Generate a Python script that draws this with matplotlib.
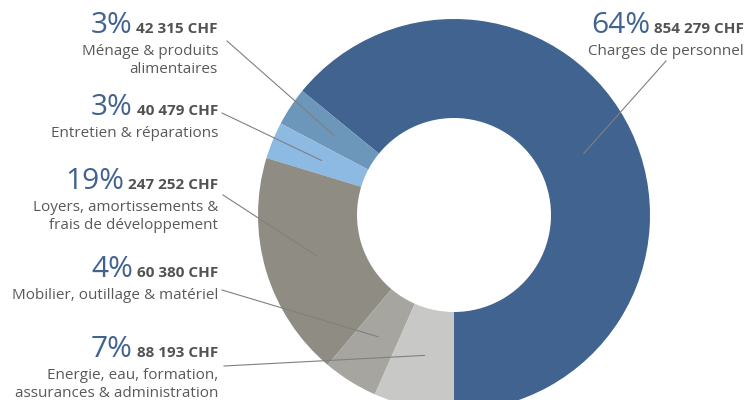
import matplotlib
matplotlib.use('Agg')
import matplotlib.pyplot as plt
import numpy as np

plt.rcParams['font.family'] = ['Open Sans', 'DejaVu Sans']

# data, in drawing order (starting at 6 o'clock, going right)
labels = ["Charges de personnel",
          "Ménage & produits\nalimentaires",
          "Entretien & réparations",
          "Loyers, amortissements &\nfrais de développement",
          "Mobilier, outillage & matériel",
          "Energie, eau, formation,\nassurances & administration"]
values = [854279, 42315, 40479, 247252, 60380, 88193]
pct_labels = ["64%", "3%", "3%", "19%", "4%", "7%"]
colors = ['#41638f', '#6c96ba', '#8dbae2', '#8f8c84', '#a6a59f', '#c8c8c6']

# label anchors (right edge x, baseline of the big percent), in pixels
anchors = [(744, 33), (218, 33), (218, 115), (218, 189), (218, 277), (218, 357)]
# leader line start, next to the text
line_starts = [(666, 61), (227, 41), (222, 113), (223, 195), (222, 290), (224, 366)]

W, H = 749, 400
fig = plt.figure(figsize=(W / 100, H / 100), dpi=100)
ax = fig.add_axes([0, 0, 1, 1])

cx, cy, r_out, r_in = 454, 215, 196, 97
wedges, _ = ax.pie(values, colors=colors, startangle=90, counterclock=False,
                   center=(cx, cy), radius=r_out, frame=True,
                   wedgeprops=dict(width=r_out - r_in, linewidth=0))
ax.set_xlim(0, W)
ax.set_ylim(H, 0)
ax.set_aspect('equal')
ax.axis('off')

renderer = fig.canvas.get_renderer()
pct_color = '#41638f'
r_mid = (r_out + r_in) / 2 - 3

for i, w in enumerate(wedges):
    x, y = anchors[i]
    chf = "{:,}".format(values[i]).replace(",", " ") + " CHF"
    t = ax.text(x, y, chf, ha='right', va='baseline', fontsize=11,
                fontweight='bold', color='#525252')
    bb = t.get_window_extent(renderer)
    x_left = ax.transData.inverted().transform((bb.x0, bb.y0))[0]
    ax.text(x_left - 4, y, pct_labels[i], ha='right', va='baseline',
            fontsize=21.5, color=pct_color)
    ax.text(x, y + 11, labels[i], ha='right', va='top', fontsize=11,
            color='#595959', linespacing=1.28)

    # leader line to the middle of the wedge
    ang = np.deg2rad((w.theta1 + w.theta2) / 2)
    ex = cx + r_mid * np.cos(ang)
    ey = cy + r_mid * np.sin(ang)
    sx, sy = line_starts[i]
    ax.plot([sx, ex], [sy, ey], color='#808080', linewidth=0.8)

fig.savefig('out.png', dpi=100)
